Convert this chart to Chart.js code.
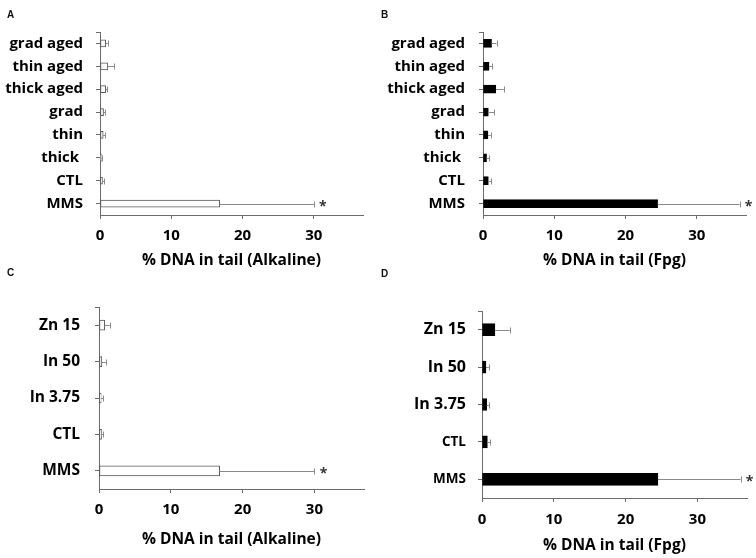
<!DOCTYPE html>
<html>
<head>
<meta charset="utf-8">
<script src="https://cdn.jsdelivr.net/npm/chart.js@4.4.1/dist/chart.umd.min.js"></script>
<style>
  html, body { margin: 0; padding: 0; background: #fff; }
  #wrap { position: relative; width: 756px; height: 558px; overflow: hidden; }
  #wrap canvas { position: absolute; }
  .tag { position: absolute; font: bold 10px 'Liberation Sans', Arial, sans-serif; color: #111; }
</style>
</head>
<body>
<div id="wrap">
  <canvas id="cA" width="378" height="279" style="left:0;top:0"></canvas>
  <canvas id="cB" width="378" height="279" style="left:378px;top:0"></canvas>
  <canvas id="cC" width="378" height="279" style="left:0;top:279px"></canvas>
  <canvas id="cD" width="378" height="279" style="left:378px;top:279px"></canvas>
  <div class="tag" style="left:7px;top:9px">A</div>
  <div class="tag" style="left:381px;top:9px">B</div>
  <div class="tag" style="left:7px;top:267px">C</div>
  <div class="tag" style="left:381px;top:268px">D</div>
</div>
<script>
// --- date ---
const labelsAB = ['grad aged', 'thin aged', 'thick aged', 'grad', 'thin', 'thick ', 'CTL', 'MMS'];
const alkA    = [0.8, 1.1, 0.8, 0.5, 0.45, 0.2, 0.35, 16.8];
const alkAErr = [0.3, 0.9, 0.2, 0.25, 0.25, 0.1, 0.2, 13.2];
const fpgB    = [1.2, 0.85, 1.8, 0.75, 0.7, 0.5, 0.75, 24.5];
const fpgBErr = [0.7, 0.4, 1.1, 0.85, 0.4, 0.35, 0.35, 11.5];
const starsAB = ['', '', '', '', '', '', '', '*'];

const labelsCD = ['Zn 15', 'In 50', 'In 3.75', 'CTL', 'MMS'];
const alkC    = [0.8, 0.4, 0.3, 0.35, 16.8];
const alkCErr = [0.7, 0.55, 0.3, 0.25, 13.2];
const fpgD    = [1.8, 0.55, 0.65, 0.75, 24.5];
const fpgDErr = [2.05, 0.4, 0.3, 0.4, 11.5];
const starsCD = ['', '', '', '', '*'];

const xTicks = [0, 10, 20, 30];
const xMax = 36.9;

const palette = { axis: '#6b6b6b', edge: '#595959', err: '#8a8a8a', ink: '#000', star: '#333' };
Chart.defaults.font.family = '"Open Sans", Lato, sans-serif';
Chart.defaults.color = '#000';

// bare de eroare (doar partea pozitiva) + asterisc
const errorBars = {
  id: 'errorBars',
  afterDatasetsDraw(chart, args, opts) {
    const { ctx, chartArea } = chart;
    const xs = chart.scales.x;
    const ds = chart.data.datasets[0];
    const meta = chart.getDatasetMeta(0);
    ctx.save();
    // mic tick la capatul de sus al axei y
    ctx.strokeStyle = palette.axis;
    ctx.lineWidth = 1;
    ctx.beginPath();
    ctx.moveTo(chartArea.left - 4, Math.round(chartArea.top) + 0.5);
    ctx.lineTo(chartArea.left, Math.round(chartArea.top) + 0.5);
    ctx.stroke();
    meta.data.forEach((bar, i) => {
      const v = ds.data[i], e = opts.errors[i];
      const x0 = xs.getPixelForValue(v), x1 = xs.getPixelForValue(v + e);
      const y = Math.round(bar.y) + 0.5;
      ctx.strokeStyle = palette.err;
      ctx.beginPath();
      ctx.moveTo(x0, y); ctx.lineTo(x1, y);
      ctx.moveTo(Math.round(x1) + 0.5, y - opts.cap); ctx.lineTo(Math.round(x1) + 0.5, y + opts.cap);
      ctx.stroke();
      if (opts.stars[i]) {
        ctx.fillStyle = palette.star;
        ctx.font = 'bold 14px "Open Sans", sans-serif';
        ctx.textAlign = 'center';
        ctx.textBaseline = 'middle';
        ctx.fillText(opts.stars[i], x1 + 9, y + 3);
      }
    });
    ctx.restore();
  }
};

function makePanel(id, cfg) {
  const canvas = document.getElementById(id);
  return new Chart(canvas.getContext('2d'), {
    type: 'bar',
    data: {
      labels: cfg.labels,
      datasets: [{
        data: cfg.values,
        backgroundColor: cfg.fill,
        borderColor: cfg.edge,
        borderWidth: 1,
        borderSkipped: false,
        barThickness: cfg.thick
      }]
    },
    options: {
      indexAxis: 'y',
      responsive: false,
      animation: false,
      layout: { padding: { left: 0, right: 378 - cfg.area.right, top: cfg.area.top, bottom: 0 } },
      plugins: {
        legend: { display: false },
        tooltip: { enabled: false },
        errorBars: { errors: cfg.errors, stars: cfg.stars, cap: cfg.cap }
      },
      scales: {
        x: {
          min: 0, max: xMax,
          afterBuildTicks: s => { s.ticks = xTicks.map(v => ({ value: v })); },
          afterFit: s => { s.height = 279 - cfg.area.bottom; },
          grid: { drawOnChartArea: false, drawTicks: true, tickLength: 4, color: palette.axis },
          border: { display: true, color: palette.axis, width: 1 },
          ticks: { padding: cfg.numPad, font: { size: 15, weight: 'bold' }, color: '#000' },
          title: { display: true, text: cfg.title, font: { size: 15.5, weight: 'bold' }, padding: { top: 0, bottom: cfg.titlePad }, color: '#000' }
        },
        y: {
          afterFit: s => { s.width = cfg.area.left; },
          grid: { drawOnChartArea: false, drawTicks: true, tickLength: 4, offset: false, color: palette.axis },
          border: { display: true, color: palette.axis, width: 1 },
          ticks: { padding: cfg.labPad, font: cfg.labFont, color: '#000', autoSkip: false }
        }
      }
    },
    plugins: [errorBars]
  });
}

const big = { size: 15, weight: 'bold' };

makePanel('cA', {
  labels: labelsAB, values: alkA, errors: alkAErr, stars: starsAB,
  fill: '#ffffff', edge: palette.edge, thick: 7, cap: 3,
  area: { left: 100, right: 363, top: 32, bottom: 215 },
  numPad: 8, titlePad: 9, labPad: 13, labFont: big,
  title: '% DNA in tail (Alkaline)'
});

makePanel('cB', {
  labels: labelsAB, values: fpgB, errors: fpgBErr, stars: starsAB,
  fill: palette.ink, edge: palette.ink, thick: 8, cap: 3,
  area: { left: 105, right: 368, top: 32, bottom: 215 },
  numPad: 8, titlePad: 9, labPad: 14, labFont: big,
  title: '% DNA in tail (Fpg)'
});

makePanel('cC', {
  labels: labelsCD, values: alkC, errors: alkCErr, stars: starsCD,
  fill: '#ffffff', edge: palette.edge, thick: 10, cap: 3,
  area: { left: 99, right: 364, top: 28, bottom: 210 },
  numPad: 8, titlePad: 9, labPad: 15, labFont: { size: 15.5, weight: 'bold' },
  title: '% DNA in tail (Alkaline)'
});

makePanel('cD', {
  labels: labelsCD, values: fpgD, errors: fpgDErr, stars: starsCD,
  fill: palette.ink, edge: palette.ink, thick: 12, cap: 3,
  area: { left: 104, right: 369, top: 32, bottom: 219 },
  numPad: 9, titlePad: 3, labPad: 12,
  labFont: ctx => (ctx.index <= 2 ? { size: 16, weight: 'bold' } : { size: 13.5, weight: 'bold' }),
  title: '% DNA in tail (Fpg)'
});
</script>
</body>
</html>
